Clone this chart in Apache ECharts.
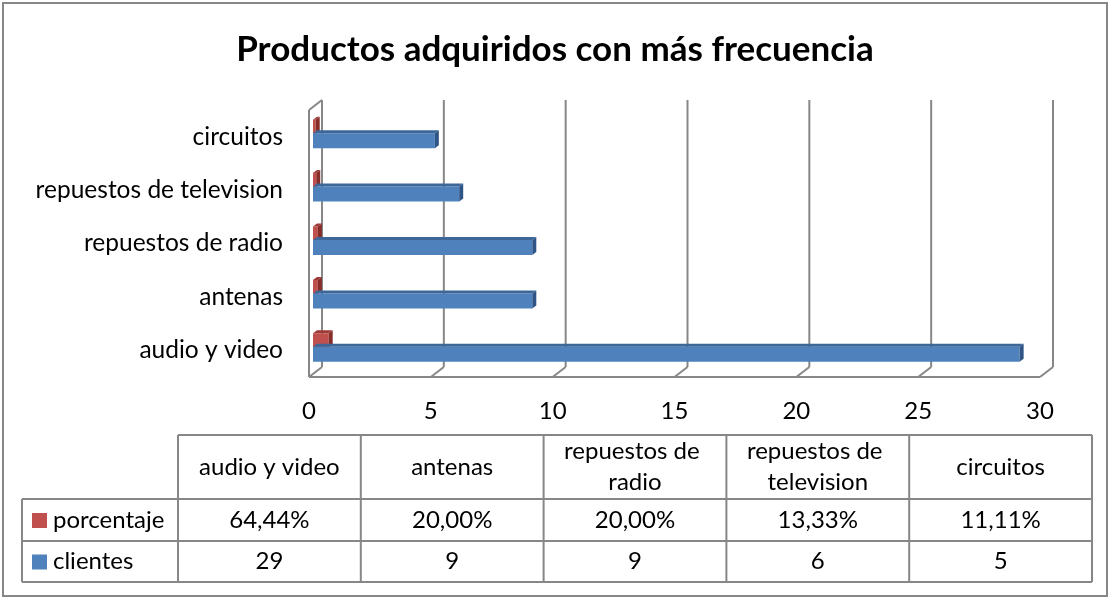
<!DOCTYPE html>
<html>
<head>
<meta charset="utf-8">
<script src="https://cdn.jsdelivr.net/npm/echarts@6/dist/echarts.min.js"></script>
<style>html,body{margin:0;padding:0;background:#fff}#chart{width:1110px;height:599px}</style>
</head>
<body>
<div id="chart"></div>
<script>
// data
var categories = ['audio y video', 'antenas', 'repuestos de radio', 'repuestos de television', 'circuitos'];
var clientes = [29, 9, 9, 6, 5];
var porcentaje = [0.6444, 0.2000, 0.2000, 0.1333, 0.1111];
var xTicks = [0, 5, 10, 15, 20, 25, 30];
var seriesNames = ['porcentaje', 'clientes'];

var FONT = 'Lato, "Open Sans", sans-serif';
var FS = 24;
var GRID = '#878787';
var BLUE = ['#4F81BD', '#3D6699', '#2E5585'];
var RED = ['#C0504D', '#9E3936', '#862D2A'];

function pct(v) {
    return (v * 100).toFixed(2).replace('.', ',') + '%';
}

// 3d-ish bar: front face + top face + side face
function bar3d(col, yOff, h) {
    return function (params, api) {
        var cat = api.value(1);
        var p0 = api.coord([0, cat]);
        var p1 = api.coord([api.value(0), cat]);
        var x0 = p0[0] + 4, x1 = p1[0] + 4;
        var y0 = p0[1] + yOff, y1 = y0 + h;
        var dx = 4, dy = -3;
        return {
            type: 'group',
            children: [
                { type: 'rect', shape: { x: x0, y: y0, width: x1 - x0, height: h }, style: { fill: col[0] } },
                { type: 'polygon', shape: { points: [[x0, y0], [x1, y0], [x1 + dx, y0 + dy], [x0 + dx, y0 + dy]] }, style: { fill: col[1] } },
                { type: 'polygon', shape: { points: [[x1, y0], [x1 + dx, y0 + dy], [x1 + dx, y1 + dy], [x1, y1]] }, style: { fill: col[2] } }
            ]
        };
    };
}

// back wall gridlines + floor
function frame(params, api) {
    var cs = params.coordSys;
    var x = api.coord([api.value(0), 0])[0];
    var top = cs.y, bottom = cs.y + cs.height;
    var dx = 13, dy = -10;
    var st = { stroke: GRID, lineWidth: 2, fill: null };
    var ch = [
        { type: 'line', shape: { x1: x + dx, y1: top + dy, x2: x + dx, y2: bottom + dy }, style: st },
        { type: 'line', shape: { x1: x + dx, y1: bottom + dy, x2: x, y2: bottom }, style: st }
    ];
    if (params.dataIndex === 0) {
        ch.push({ type: 'line', shape: { x1: x, y1: top, x2: x, y2: bottom }, style: st });
        ch.push({ type: 'line', shape: { x1: x, y1: top, x2: x + dx, y2: top + dy }, style: st });
        ch.push({ type: 'line', shape: { x1: x, y1: bottom, x2: cs.x + cs.width, y2: bottom }, style: st });
    }
    return { type: 'group', children: ch };
}

// data table drawn under the chart
var tbl = { keyLeft: 22, left: 178, right: 1092, top: 435, rows: [499, 541, 582] };
var colW = (tbl.right - tbl.left) / categories.length;
var lineSt = { stroke: GRID, lineWidth: 2 };
var table = [];
table.push({ type: 'line', shape: { x1: tbl.left, y1: tbl.top, x2: tbl.right, y2: tbl.top }, style: lineSt });
tbl.rows.forEach(function (y) {
    table.push({ type: 'line', shape: { x1: tbl.keyLeft, y1: y, x2: tbl.right, y2: y }, style: lineSt });
});
table.push({ type: 'line', shape: { x1: tbl.keyLeft, y1: tbl.rows[0], x2: tbl.keyLeft, y2: tbl.rows[2] }, style: lineSt });
for (var i = 0; i <= categories.length; i++) {
    var cx = tbl.left + i * colW;
    table.push({ type: 'line', shape: { x1: cx, y1: tbl.top, x2: cx, y2: tbl.rows[2] }, style: lineSt });
}
var rowVals = [porcentaje.map(pct), clientes.map(String)];
var rowCols = [RED[0], BLUE[0]];
var font = FS + 'px ' + FONT;
categories.forEach(function (c, i) {
    var cx = tbl.left + (i + 0.5) * colW;
    table.push({
        type: 'text', x: cx, y: (tbl.top + tbl.rows[0]) / 2,
        style: { text: c, width: 165, overflow: 'break', font: font, fill: '#000', align: 'center', verticalAlign: 'middle', lineHeight: 31 }
    });
    rowVals.forEach(function (vals, r) {
        table.push({
            type: 'text', x: cx, y: (tbl.rows[r] + tbl.rows[r + 1]) / 2,
            style: { text: vals[i], font: font, fill: '#000', align: 'center', verticalAlign: 'middle' }
        });
    });
});
seriesNames.forEach(function (n, r) {
    var cy = (tbl.rows[r] + tbl.rows[r + 1]) / 2;
    table.push({ type: 'rect', shape: { x: 32, y: cy - 7, width: 15, height: 15 }, style: { fill: rowCols[r] } });
    table.push({ type: 'text', x: 53, y: cy, style: { text: n, font: font, fill: '#000', verticalAlign: 'middle' } });
});
table.push({ type: 'rect', shape: { x: 3, y: 3, width: 1104, height: 593 }, style: { fill: null, stroke: GRID, lineWidth: 2 } });

var chart = echarts.init(document.getElementById('chart'));
chart.setOption({
    animation: false,
    title: {
        text: 'Productos adquiridos con más frecuencia',
        left: 'center', top: 27,
        textStyle: { fontFamily: FONT, fontSize: 35, fontWeight: 'bold', color: '#000' }
    },
    grid: { left: 309, right: 70, top: 110, bottom: 222 },
    xAxis: {
        type: 'value', min: 0, max: 30, interval: 5,
        axisLine: { show: false }, axisTick: { show: false }, splitLine: { show: false },
        axisLabel: { margin: 22, fontSize: FS, fontFamily: FONT, color: '#000' }
    },
    yAxis: {
        type: 'category', data: categories,
        axisLine: { show: false }, axisTick: { show: false },
        axisLabel: { margin: 26, fontSize: 24.5, fontFamily: FONT, color: '#000' }
    },
    series: [
        { type: 'custom', name: 'frame', renderItem: frame, data: xTicks.map(function (t) { return [t, 0]; }), z: 1 },
        { type: 'custom', name: seriesNames[0], renderItem: bar3d(RED, -17, 14), data: porcentaje.map(function (v, i) { return [v, i]; }), encode: { x: 0, y: 1 }, z: 2 },
        { type: 'custom', name: seriesNames[1], renderItem: bar3d(BLUE, -3.5, 15), data: clientes.map(function (v, i) { return [v, i]; }), encode: { x: 0, y: 1 }, z: 3 }
    ],
    graphic: table
});
</script>
</body>
</html>
